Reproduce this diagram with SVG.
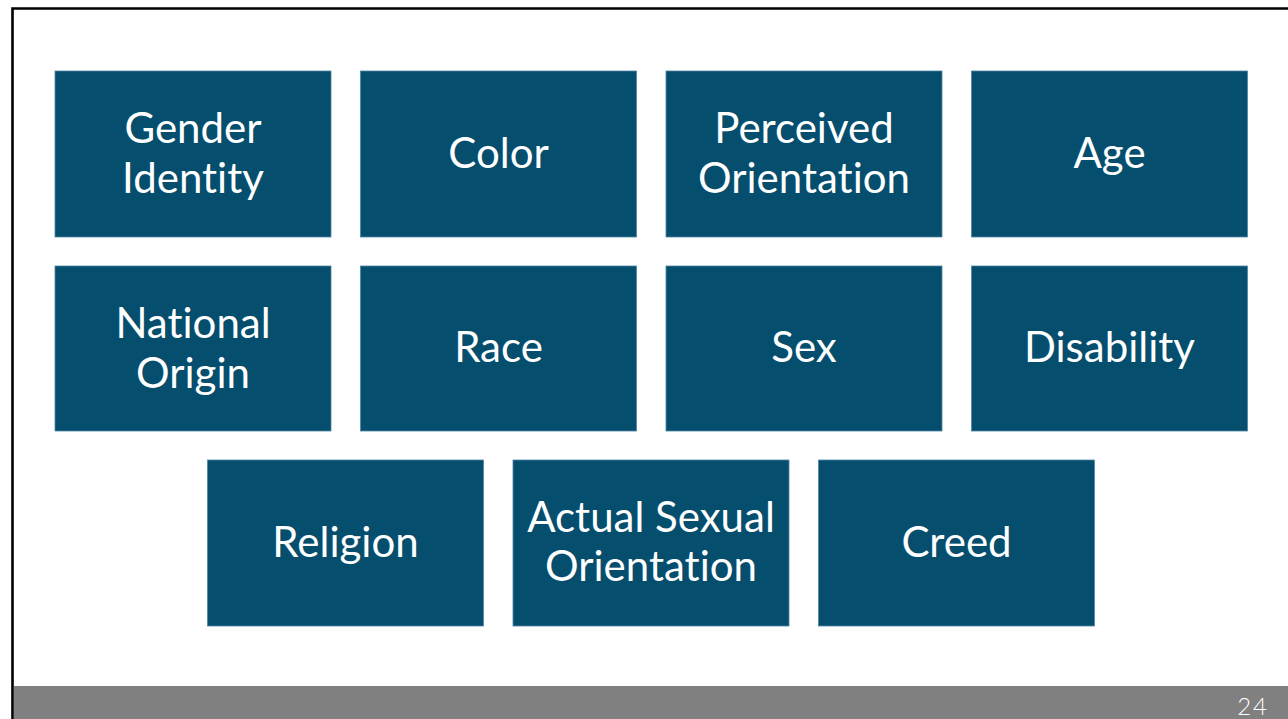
<svg xmlns="http://www.w3.org/2000/svg" width="1288" height="719" viewBox="0 0 1288 719">
  <style>
    .box { fill: #054e6e; stroke: #4f85a3; stroke-width: 0.8; }
    .lbl { font-family: Lato, "Open Sans", "Liberation Sans", sans-serif; font-size: 42px; fill: #ffffff; text-anchor: middle; font-variant-ligatures: none; font-feature-settings: "liga" 0; }
    .num { font-family: Lato, "Liberation Sans", sans-serif; font-weight: 300; font-size: 24px; letter-spacing: 2px; fill: #ffffff; text-anchor: end; }
  </style>

  <!-- slide background and frame -->
  <rect x="0" y="0" width="1288" height="719" fill="#ffffff"/>
  <path d="M12.5,719 V8.5 H1288" fill="none" stroke="#000000" stroke-width="2.6"/>

  <!-- footer bar with page number -->
  <rect x="14" y="686" width="1274" height="33" fill="#808080"/>
  <text class="num" x="1269" y="715">24</text>

  <!-- row 1 -->
  <g id="gender-identity">
    <rect class="box" x="55" y="71" width="276" height="166"/>
    <text class="lbl" x="193" y="143">Gender</text>
    <text class="lbl" x="193" y="193">Identity</text>
  </g>
  <g id="color">
    <rect class="box" x="360.5" y="71" width="276" height="166"/>
    <text class="lbl" x="498.5" y="168">Color</text>
  </g>
  <g id="perceived-orientation">
    <rect class="box" x="666" y="71" width="276" height="166"/>
    <text class="lbl" x="804" y="143">Perceived</text>
    <text class="lbl" x="804" y="193">Orientation</text>
  </g>
  <g id="age">
    <rect class="box" x="971.5" y="71" width="276" height="166"/>
    <text class="lbl" x="1109.5" y="168">Age</text>
  </g>

  <!-- row 2 -->
  <g id="national-origin">
    <rect class="box" x="55" y="266" width="276" height="165"/>
    <text class="lbl" x="193" y="338">National</text>
    <text class="lbl" x="193" y="388">Origin</text>
  </g>
  <g id="race">
    <rect class="box" x="360.5" y="266" width="276" height="165"/>
    <text class="lbl" x="498.5" y="362">Race</text>
  </g>
  <g id="sex">
    <rect class="box" x="666" y="266" width="276" height="165"/>
    <text class="lbl" x="804" y="362">Sex</text>
  </g>
  <g id="disability">
    <rect class="box" x="971.5" y="266" width="276" height="165"/>
    <text class="lbl" x="1109.5" y="362">Disability</text>
  </g>

  <!-- row 3 -->
  <g id="religion">
    <rect class="box" x="207.5" y="460" width="276" height="166"/>
    <text class="lbl" x="345.5" y="557">Religion</text>
  </g>
  <g id="actual-sexual-orientation">
    <rect class="box" x="513" y="460" width="276" height="166"/>
    <text class="lbl" x="651" y="532">Actual Sexual</text>
    <text class="lbl" x="651" y="581">Orientation</text>
  </g>
  <g id="creed">
    <rect class="box" x="818.5" y="460" width="276" height="166"/>
    <text class="lbl" x="956.5" y="557">Creed</text>
  </g>

  <!-- no connectors in this layout -->
  <g id="connectors"></g>
</svg>
